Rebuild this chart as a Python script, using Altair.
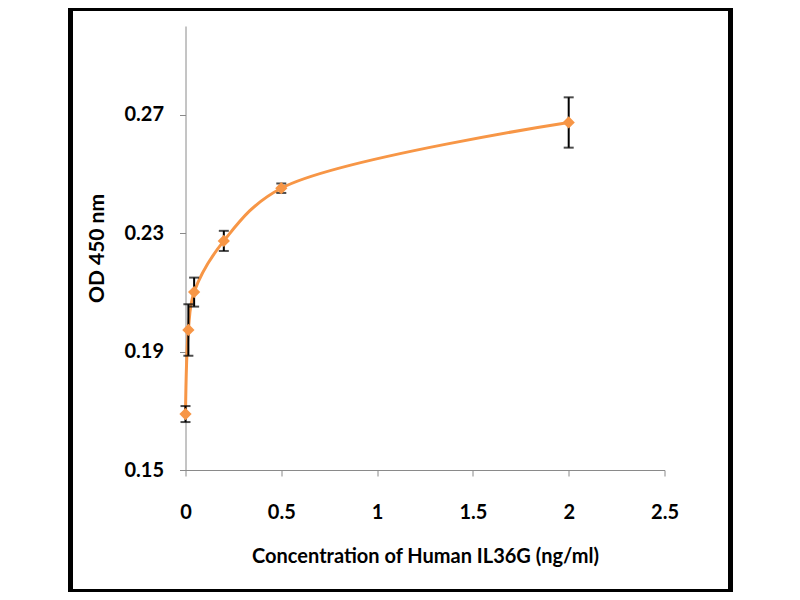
import altair as alt
import pandas as pd

# Data
conc = [0, 0.015, 0.045, 0.2, 0.5, 2]
od = [0.1689, 0.1973, 0.2101, 0.2274, 0.2452, 0.2674]
err = [0.0027, 0.0087, 0.0049, 0.0034, 0.0016, 0.0085]

x_ticks = [0, 0.5, 1, 1.5, 2, 2.5]
y_ticks = [0.15, 0.19, 0.23, 0.27]

df = pd.DataFrame({"conc": conc, "od": od, "err": err})
df["lo"] = df["od"] - df["err"]
df["hi"] = df["od"] + df["err"]

ORANGE = "#F79646"
AXIS_GREY = "#8a8a8a"
FONT = "Lato"

x_scale = alt.Scale(domain=[0, 2.5], nice=False, zero=False)
y_scale = alt.Scale(domain=[0.15, 0.30], nice=False, zero=False)

x_axis = alt.Axis(
    values=x_ticks, format="~g", title="Concentration of Human IL36G (ng/ml)",
    grid=False, domainColor=AXIS_GREY, tickColor=AXIS_GREY, tickSize=6,
    labelFont=FONT, labelFontSize=20, labelFontWeight="bold", labelColor="#000",
    labelPadding=26, titleFont=FONT, titleFontSize=20, titleFontWeight="bold",
    titleColor="#000", titlePadding=24, labelFlush=False,
)
y_axis = alt.Axis(
    values=y_ticks, format=".2f", title="OD 450 nm",
    grid=False, domainColor=AXIS_GREY, tickColor=AXIS_GREY, tickSize=6,
    labelFont=FONT, labelFontSize=20, labelFontWeight="bold", labelColor="#000",
    labelPadding=16, titleFont=FONT, titleFontSize=21, titleFontWeight="bold",
    titleColor="#000", titlePadding=16, labelFlush=False,
)

base = alt.Chart(df)

line = base.mark_line(color=ORANGE, strokeWidth=3, interpolate="catmull-rom").encode(
    x=alt.X("conc:Q", scale=x_scale, axis=x_axis),
    y=alt.Y("od:Q", scale=y_scale, axis=y_axis),
)

err_rule = base.mark_rule(color="#000", strokeWidth=2).encode(
    x=alt.X("conc:Q", scale=x_scale),
    y=alt.Y("lo:Q", scale=y_scale),
    y2="hi:Q",
)
cap_lo = base.mark_tick(color="#000", orient="horizontal", size=10, thickness=2).encode(
    x=alt.X("conc:Q", scale=x_scale),
    y=alt.Y("lo:Q", scale=y_scale),
)
cap_hi = base.mark_tick(color="#000", orient="horizontal", size=10, thickness=2).encode(
    x=alt.X("conc:Q", scale=x_scale),
    y=alt.Y("hi:Q", scale=y_scale),
)

points = base.mark_point(shape="diamond", filled=True, color=ORANGE, size=150, opacity=1).encode(
    x=alt.X("conc:Q", scale=x_scale),
    y=alt.Y("od:Q", scale=y_scale),
)

# Decorative picture frame
one = pd.DataFrame({"a": [0]})
frame_left = alt.Chart(one).mark_rule(color="#000", strokeWidth=5).encode(
    x=alt.value(-115), y=alt.value(-18), y2=alt.value(566))
frame_right = alt.Chart(one).mark_rule(color="#000", strokeWidth=5).encode(
    x=alt.value(545), y=alt.value(-18), y2=alt.value(566))
frame_top = alt.Chart(one).mark_rule(color="#000", strokeWidth=3).encode(
    x=alt.value(-117.5), x2=alt.value(547.5), y=alt.value(-16.5))
frame_bottom = alt.Chart(one).mark_rule(color="#000", strokeWidth=3).encode(
    x=alt.value(-117.5), x2=alt.value(547.5), y=alt.value(564.5))

chart = alt.layer(
    line, err_rule, cap_lo, cap_hi, points,
    frame_left, frame_right, frame_top, frame_bottom,
).properties(
    width=479, height=444,
    autosize=alt.AutoSizeParams(type="none"),
    padding={"left": 177.5, "top": 18, "right": 127.5, "bottom": 122},
    background="white",
).configure_view(stroke=None)

chart.save("out.html", embed_options={"renderer": "svg", "actions": False})
